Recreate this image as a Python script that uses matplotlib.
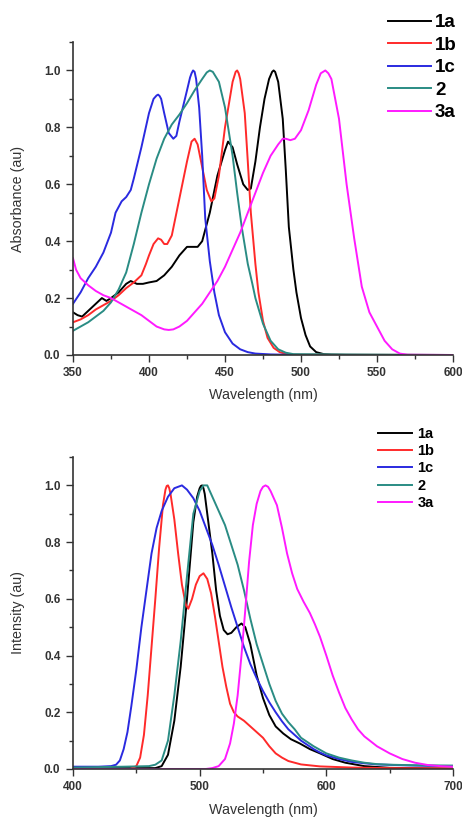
import matplotlib
matplotlib.use('Agg')
import matplotlib.pyplot as plt
from matplotlib.ticker import MultipleLocator

plt.rcParams['font.family'] = ['Liberation Sans', 'DejaVu Sans']

# absorption spectra (wavelength nm, absorbance)
abs_1a_x = [350, 353, 356, 360, 365, 369, 372, 375, 380, 385, 388, 392, 396, 400, 405, 410, 415, 420, 425, 428,
            432, 435, 440, 445, 450, 452, 455, 458, 462, 465, 467, 470, 473, 476, 479, 481, 482, 483, 485, 488,
            490, 492, 495, 497, 500, 503, 506, 510, 515, 520, 530, 600]
abs_1a_y = [0.15, 0.14, 0.135, 0.155, 0.18, 0.2, 0.19, 0.2, 0.22, 0.25, 0.26, 0.25, 0.25, 0.255, 0.26, 0.28, 0.31,
            0.35, 0.38, 0.38, 0.38, 0.4, 0.5, 0.63, 0.72, 0.75, 0.73, 0.67, 0.6, 0.58, 0.585, 0.68, 0.8, 0.9, 0.97,
            0.995, 1.0, 0.995, 0.96, 0.83, 0.65, 0.45, 0.3, 0.22, 0.13, 0.07, 0.03, 0.01, 0.003, 0.001, 0.0, 0.0]

abs_1b_x = [350, 355, 360, 365, 370, 375, 380, 385, 390, 395, 398, 400, 403, 406, 408, 410, 412, 415, 420, 425,
            428, 430, 432, 435, 438, 441, 443, 446, 450, 455, 457, 458, 459, 460, 463, 465, 467, 470, 472, 475,
            478, 482, 486, 490, 495, 600]
abs_1b_y = [0.115, 0.125, 0.14, 0.16, 0.175, 0.19, 0.21, 0.235, 0.255, 0.28, 0.32, 0.35, 0.39, 0.41, 0.405, 0.39,
            0.39, 0.42, 0.55, 0.68, 0.75, 0.76, 0.74, 0.66, 0.58, 0.54, 0.55, 0.63, 0.8, 0.96, 0.995, 1.0, 0.99,
            0.97, 0.85, 0.68, 0.5, 0.32, 0.22, 0.12, 0.06, 0.025, 0.01, 0.004, 0.001, 0.0]

abs_1c_x = [350, 355, 360, 365, 370, 375, 378, 382, 385, 388, 390, 395, 400, 403, 405, 406, 407, 408, 410, 413,
            416, 418, 420, 425, 427, 428, 429, 430, 431, 433, 435, 437, 440, 443, 446, 450, 455, 460, 465, 470,
            480, 500, 600]
abs_1c_y = [0.18, 0.22, 0.27, 0.31, 0.36, 0.43, 0.5, 0.54, 0.555, 0.58, 0.62, 0.73, 0.85, 0.9, 0.912, 0.915,
            0.91, 0.9, 0.85, 0.78, 0.76, 0.77, 0.82, 0.93, 0.975, 0.99, 1.0, 0.995, 0.97, 0.87, 0.7, 0.48, 0.33,
            0.22, 0.14, 0.08, 0.04, 0.02, 0.01, 0.005, 0.002, 0.0, 0.0]

abs_2_x = [350, 355, 360, 365, 370, 375, 380, 385, 390, 395, 400, 405, 410, 415, 420, 425, 430, 435, 438, 440,
           442, 446, 450, 455, 458, 461, 465, 468, 470, 475, 480, 485, 490, 495, 600]
abs_2_y = [0.085, 0.1, 0.115, 0.135, 0.155, 0.185, 0.23, 0.29, 0.39, 0.5, 0.6, 0.69, 0.76, 0.81, 0.845, 0.885,
           0.93, 0.97, 0.993, 1.0, 0.995, 0.96, 0.87, 0.7, 0.57, 0.45, 0.32, 0.25, 0.2, 0.11, 0.05, 0.02, 0.008,
           0.003, 0.0]

abs_3a_x = [350, 352, 355, 360, 365, 370, 375, 380, 385, 390, 395, 400, 405, 410, 413, 416, 420, 425, 430, 435,
            440, 445, 450, 455, 460, 465, 470, 475, 480, 485, 488, 490, 493, 496, 500, 505, 510, 513, 516, 518,
            520, 525, 530, 535, 540, 545, 550, 555, 560, 565, 570, 600]
abs_3a_y = [0.34, 0.3, 0.27, 0.245, 0.225, 0.21, 0.2, 0.185, 0.17, 0.155, 0.14, 0.12, 0.1, 0.09, 0.088, 0.09, 0.1,
            0.12, 0.15, 0.18, 0.22, 0.26, 0.31, 0.37, 0.43, 0.5, 0.57, 0.64, 0.7, 0.74, 0.76, 0.76, 0.755, 0.76,
            0.79, 0.86, 0.95, 0.99, 1.0, 0.99, 0.97, 0.83, 0.6, 0.41, 0.24, 0.15, 0.1, 0.05, 0.02, 0.005, 0.001, 0.0]

# emission spectra (wavelength nm, intensity)
em_1a_x = [400, 465, 470, 475, 480, 485, 490, 495, 498, 500, 501, 502, 503, 504, 506, 508, 510, 513, 516, 519,
           522, 525, 529, 533, 536, 540, 545, 550, 555, 560, 566, 572, 579, 587, 595, 605, 615, 630, 650, 700]
em_1a_y = [0.003, 0.003, 0.01, 0.05, 0.17, 0.36, 0.6, 0.87, 0.96, 0.99, 0.998, 1.0, 0.99, 0.97, 0.9, 0.83, 0.76,
           0.63, 0.54, 0.49, 0.475, 0.48, 0.5, 0.513, 0.5, 0.44, 0.33, 0.25, 0.19, 0.15, 0.125, 0.105, 0.09, 0.07,
           0.055, 0.035, 0.022, 0.01, 0.004, 0.001]

em_1b_x = [400, 445, 450, 453, 456, 459, 462, 465, 468, 471, 473, 474, 475, 476, 477, 480, 483, 486, 489, 491,
           494, 497, 500, 503, 506, 509, 512, 515, 518, 521, 524, 527, 530, 535, 540, 545, 550, 555, 560, 565,
           570, 580, 595, 620, 650, 700]
em_1b_y = [0.0, 0.0, 0.01, 0.04, 0.12, 0.26, 0.43, 0.6, 0.78, 0.93, 0.985, 0.998, 1.0, 0.99, 0.97, 0.88, 0.76,
           0.65, 0.58, 0.565, 0.6, 0.65, 0.68, 0.69, 0.67, 0.62, 0.54, 0.45, 0.36, 0.29, 0.23, 0.2, 0.185, 0.17,
           0.15, 0.13, 0.11, 0.08, 0.055, 0.04, 0.028, 0.016, 0.009, 0.005, 0.003, 0.002]

em_1c_x = [400, 420, 430, 434, 437, 440, 443, 446, 450, 454, 458, 462, 466, 470, 475, 480, 486, 490, 495, 500,
           505, 510, 515, 520, 525, 530, 535, 540, 545, 550, 555, 560, 565, 570, 575, 580, 585, 590, 595, 600,
           610, 620, 630, 640, 660, 680, 700]
em_1c_y = [0.008, 0.008, 0.01, 0.015, 0.03, 0.07, 0.13, 0.22, 0.35, 0.5, 0.63, 0.76, 0.85, 0.91, 0.96, 0.99,
           1.0, 0.985, 0.955, 0.91, 0.85, 0.79, 0.72, 0.645, 0.57, 0.5, 0.43, 0.37, 0.32, 0.275, 0.235, 0.2,
           0.168, 0.14, 0.12, 0.1, 0.085, 0.07, 0.058, 0.048, 0.035, 0.025, 0.02, 0.016, 0.013, 0.011, 0.01]

em_2_x = [400, 440, 460, 465, 470, 475, 480, 485, 490, 495, 500, 503, 506, 510, 515, 520, 525, 530, 535, 540,
          545, 550, 555, 560, 565, 570, 575, 580, 585, 590, 600, 610, 620, 630, 640, 650, 670, 700]
em_2_y = [0.005, 0.008, 0.01, 0.015, 0.03, 0.1, 0.26, 0.45, 0.68, 0.9, 0.98, 1.0, 1.0, 0.96, 0.91, 0.86, 0.79,
          0.72, 0.63, 0.53, 0.44, 0.37, 0.3, 0.24, 0.195, 0.165, 0.14, 0.11, 0.095, 0.08, 0.055, 0.04, 0.03,
          0.022, 0.017, 0.015, 0.013, 0.012]

em_3a_x = [400, 505, 510, 515, 520, 524, 527, 530, 533, 536, 539, 542, 545, 548, 550, 552, 554, 556, 558, 561,
           565, 569, 573, 577, 582, 587, 591, 595, 600, 605, 610, 615, 620, 625, 630, 640, 650, 660, 670, 680,
           690, 700]
em_3a_y = [0.0, 0.0, 0.003, 0.01, 0.035, 0.09, 0.16, 0.26, 0.4, 0.56, 0.73, 0.86, 0.935, 0.98, 0.995, 1.0, 0.995,
           0.98, 0.96, 0.93, 0.85, 0.76, 0.69, 0.635, 0.59, 0.55, 0.51, 0.466, 0.4, 0.33, 0.27, 0.215, 0.175, 0.14,
           0.115, 0.08, 0.055, 0.035, 0.022, 0.014, 0.01, 0.008]

labels = ['1a', '1b', '1c', '2', '3a']
colors = ['#000000', '#ff2a2a', '#2a2ae0', '#2a8c84', '#ff1aff']

abs_data = [(abs_1a_x, abs_1a_y), (abs_1b_x, abs_1b_y), (abs_1c_x, abs_1c_y), (abs_2_x, abs_2_y), (abs_3a_x, abs_3a_y)]
em_data = [(em_1a_x, em_1a_y), (em_1b_x, em_1b_y), (em_1c_x, em_1c_y), (em_2_x, em_2_y), (em_3a_x, em_3a_y)]


def style_axis(ax, xmin, xmax, xticks, xminor, ylabel):
    ax.set_xlim(xmin, xmax)
    ax.set_ylim(0, 1.1)
    ax.xaxis.set_minor_locator(MultipleLocator(xminor))
    ax.yaxis.set_minor_locator(MultipleLocator(0.1))
    ax.spines['top'].set_visible(False)
    ax.spines['right'].set_visible(False)
    for side in ['left', 'bottom']:
        ax.spines[side].set_linewidth(1.2)
        ax.spines[side].set_color('#333333')
    ax.tick_params(which='major', direction='out', length=5, width=1, colors='#333333', pad=4)
    ax.tick_params(which='minor', direction='out', length=3, width=1, colors='#333333')
    ax.set_xticks(xticks)
    ax.set_xticklabels([str(t) for t in xticks], fontweight='bold', fontsize=8.5)
    ax.set_yticks([0.0, 0.2, 0.4, 0.6, 0.8, 1.0])
    ax.set_yticklabels(['0.0', '0.2', '0.4', '0.6', '0.8', '1.0'], fontweight='bold', fontsize=8.5)
    ax.set_xlabel('Wavelength (nm)', fontsize=10.3, color='#333333')
    ax.set_ylabel(ylabel, fontsize=10.3, color='#333333')
    ax.yaxis.set_label_coords(-0.125, 0.5)


fig = plt.figure(figsize=(4.62, 8.17), dpi=100)
ax1 = fig.add_axes([0.158, 0.5655, 0.8225, 0.3831])
ax2 = fig.add_axes([0.158, 0.0588, 0.8225, 0.3818])

for (x, y), lab, c in zip(abs_data, labels, colors):
    ax1.plot(x, y, color=c, lw=1.4, label=lab, solid_joinstyle='round')
for (x, y), lab, c in zip(em_data, labels, colors):
    ax2.plot(x, y, color=c, lw=1.4, label=lab, solid_joinstyle='round')

style_axis(ax1, 350, 600, [350, 400, 450, 500, 550, 600], 25, 'Absorbance (au)')
style_axis(ax2, 400, 700, [400, 500, 600, 700], 50, 'Intensity (au)')
ax1.xaxis.set_label_coords(0.5, -0.105)
ax2.xaxis.set_label_coords(0.5, -0.11)

fig.legend(handles=ax1.get_lines(), labels=labels, loc='upper left', bbox_to_anchor=(388 / 462, 1 - 14 / 817),
           frameon=False, prop={'weight': 'bold', 'size': 13.5}, handlelength=2.3, handletextpad=0.2,
           labelspacing=0.29, borderpad=0, borderaxespad=0)
fig.legend(handles=ax2.get_lines(), labels=labels, loc='upper left', bbox_to_anchor=(378 / 462, 1 - 427 / 817),
           frameon=False, prop={'weight': 'bold', 'size': 10.5}, handlelength=2.3, handletextpad=0.4,
           labelspacing=0.22, borderpad=0, borderaxespad=0)

fig.savefig('out.png', dpi=100)
